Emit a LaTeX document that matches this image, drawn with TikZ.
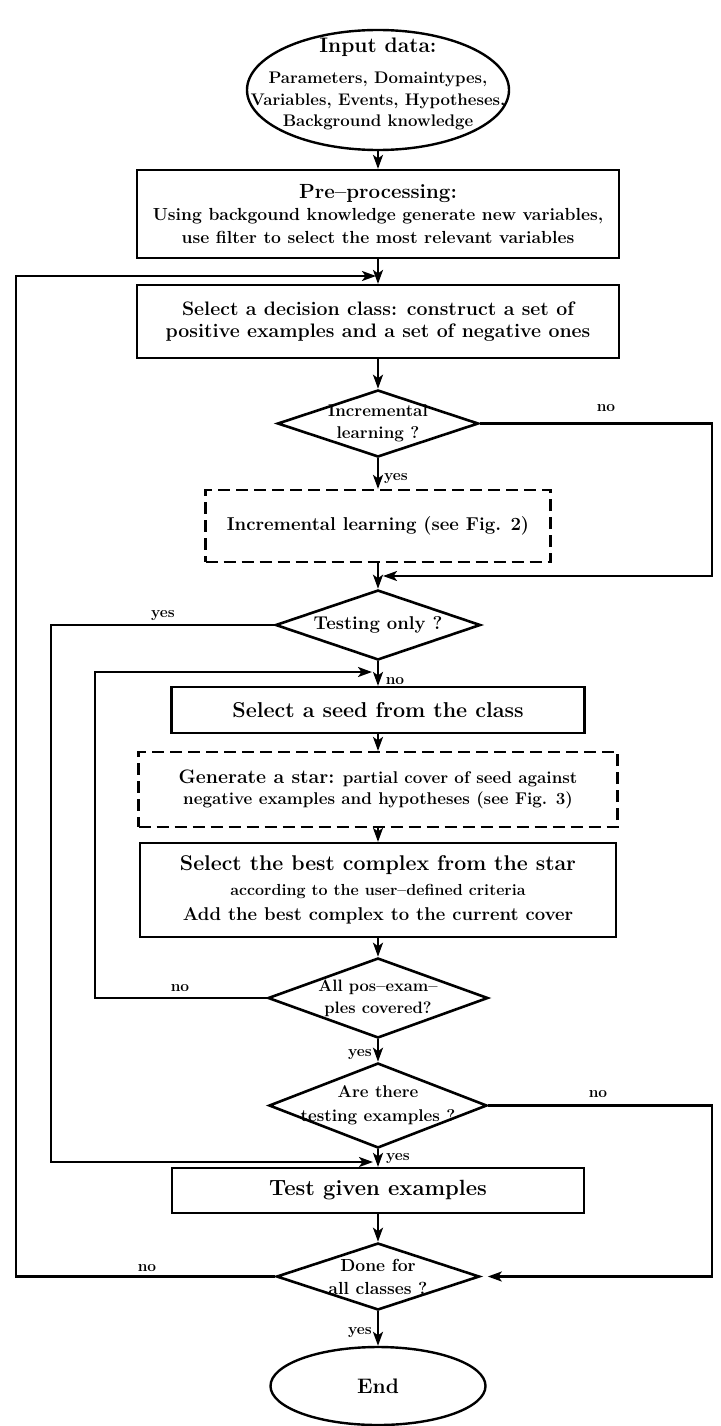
\documentclass[tikz,border=0pt]{standalone}
\usetikzlibrary{shapes.geometric,arrows.meta}
% font size helper: size and baseline skip in pt
\newcommand\fsz[2]{\fontsize{#1pt}{#2pt}\selectfont}
\begin{document}
\begin{tikzpicture}[x=1pt,y=-1pt,
  every node/.style={font=\bfseries},
  box/.style={draw, rectangle, line width=2.2pt, inner sep=0pt, align=center},
  dbox/.style={box, dash pattern=on 12pt off 6pt},
  dia/.style={draw, diamond, line width=2.6pt, inner sep=0pt},
  oval/.style={draw, ellipse, line width=2.4pt, inner sep=0pt},
  dtext/.style={align=center, inner sep=0pt},
  lbl/.style={font=\bfseries\fsz{15.5}{17}, inner sep=0pt},
  flow/.style={line width=2.2pt, -{Stealth[length=14pt,width=10pt,inset=3.5pt]}}]
\useasboundingbox (0,0) rectangle (720,1426);

% ---- main column ----
\node[oval, minimum width=262pt, minimum height=120pt,
  label={[dtext, font=\bfseries\fsz{16.8}{21.5}, yshift=6pt]center:{{\fsz{21}{24}Input data:}\\[10pt]Parameters, Domaintypes,\\Variables, Events, Hypotheses,\\Background knowledge}}]
  (input) at (378,90) {};

\node[box, minimum width=482pt, minimum height=88pt, font=\bfseries\fsz{17.5}{22.5}]
  (pre) at (378,214) {{\fsz{20.5}{23}Pre--processing:}\\Using backgound knowledge generate new variables,\\use filter to select the most relevant variables};

\node[box, minimum width=482pt, minimum height=73pt, font=\bfseries\fsz{19.5}{22.5}]
  (sel) at (378,321.5) {Select a decision class: construct a set of\\positive examples and a set of negative ones};

\node[dia, minimum width=201pt, minimum height=67pt,
  label={[dtext, font=\bfseries\fsz{17}{22}]center:{Incremental\\learning ?}}]
  (d1) at (378,423.5) {};

\node[dbox, minimum width=345pt, minimum height=72pt, font=\bfseries\fsz{18.6}{21}]
  (inc) at (378,526) {Incremental learning (see Fig. 2)};

\node[dia, minimum width=205pt, minimum height=70pt,
  label={[dtext, font=\bfseries\fsz{18.5}{21}]center:{Testing only ?}}]
  (d2) at (378,625) {};

\node[box, minimum width=413pt, minimum height=46pt, font=\bfseries\fsz{21.5}{24}]
  (seed) at (378,710) {Select a seed from the class};

\node[dbox, minimum width=479pt, minimum height=75pt, font=\bfseries\fsz{17}{21.5}]
  (star) at (378,789.5) {{\fsz{19.5}{21.5}Generate a star:} partial cover of seed against\\negative examples and hypotheses (see Fig. 3)};

\node[box, minimum width=476pt, minimum height=94pt, font=\bfseries\fsz{18.5}{25}]
  (best) at (378,890) {{\fsz{21.3}{25}Select the best complex from the star}\\{\fsz{16}{25}according to the user--defined criteria}\\Add the best complex to the current cover};

\node[dia, minimum width=220pt, minimum height=80pt,
  label={[dtext, font=\bfseries\fsz{16.5}{22}]center:{All pos--exam--\\ples covered?}}]
  (d3) at (378,998) {};

\node[dia, minimum width=218pt, minimum height=85pt,
  label={[dtext, font=\bfseries\fsz{17}{24}]center:{Are there\\testing examples ?}}]
  (d4) at (378,1105.5) {};

\node[box, minimum width=412pt, minimum height=45pt, font=\bfseries\fsz{22}{24}]
  (test) at (378,1190.5) {Test given examples};

\node[dia, minimum width=203pt, minimum height=67pt,
  label={[dtext, font=\bfseries\fsz{17.5}{23}]center:{Done for\\all classes ?}}]
  (d5) at (378,1276.5) {};

\node[oval, minimum width=215pt, minimum height=78pt, font=\bfseries\fsz{21}{24}]
  (end) at (378,1386) {End};

% ---- straight flow ----
\draw[flow] (input) -- (pre);
\draw[flow] (pre) -- (sel);
\draw[flow] (sel) -- (d1);
\draw[flow] (d1) -- (inc);
\draw[flow] (inc) -- (d2);
\draw[flow] (d2) -- (seed);
\draw[flow] (seed) -- (star);
\draw[flow] (star) -- (best);
\draw[flow] (best) -- (d3);
\draw[flow] (d3) -- (d4);
\draw[flow] (d4) -- (test);
\draw[flow] (test) -- (d5);
\draw[flow] (d5) -- (end);

% ---- side rails and junctions ----
\coordinate (railO) at (16,0);
\coordinate (railY) at (51,0);
\coordinate (railI) at (95,0);
\coordinate (railR) at (712,0);
\coordinate (j1) at (378,276);
\coordinate (j2) at (378,576);
\coordinate (j3) at (378,672);
\coordinate (j4) at (378,1162);

\draw[flow, shorten >=2pt] (d5.west) -- (d5.west -| railO) -- (railO |- j1) -- (j1);
\draw[flow, shorten >=5pt] (d1.east) -- (d1.east -| railR) -- (railR |- j2) -- (j2);
\draw[flow, shorten >=6pt] (d3.west) -- (d3.west -| railI) -- (railI |- j3) -- (j3);
\draw[flow, shorten >=5pt] (d2.west) -- (d2.west -| railY) -- (railY |- j4) -- (j4);
\draw[flow, shorten >=7pt] (d4.east) -- (d4.east -| railR) -- (railR |- d5.east) -- (d5.east);

% ---- branch labels ----
\node[lbl] (no1) at (606,408) {no};
\node[lbl] (yes1) at (396,479) {yes};
\node[lbl] (yes2) at (163,616) {yes};
\node[lbl] (no2) at (395,681) {no};
\node[lbl] (no3) at (180,988) {no};
\node[lbl, anchor=east] (yes3) at (372,1055) {yes};
\node[lbl] (no4) at (598,1094) {no};
\node[lbl] (yes4) at (398,1159) {yes};
\node[lbl] (no5) at (147,1268) {no};
\node[lbl, anchor=east] (yes5) at (372,1333) {yes};
\end{tikzpicture}
\end{document}
